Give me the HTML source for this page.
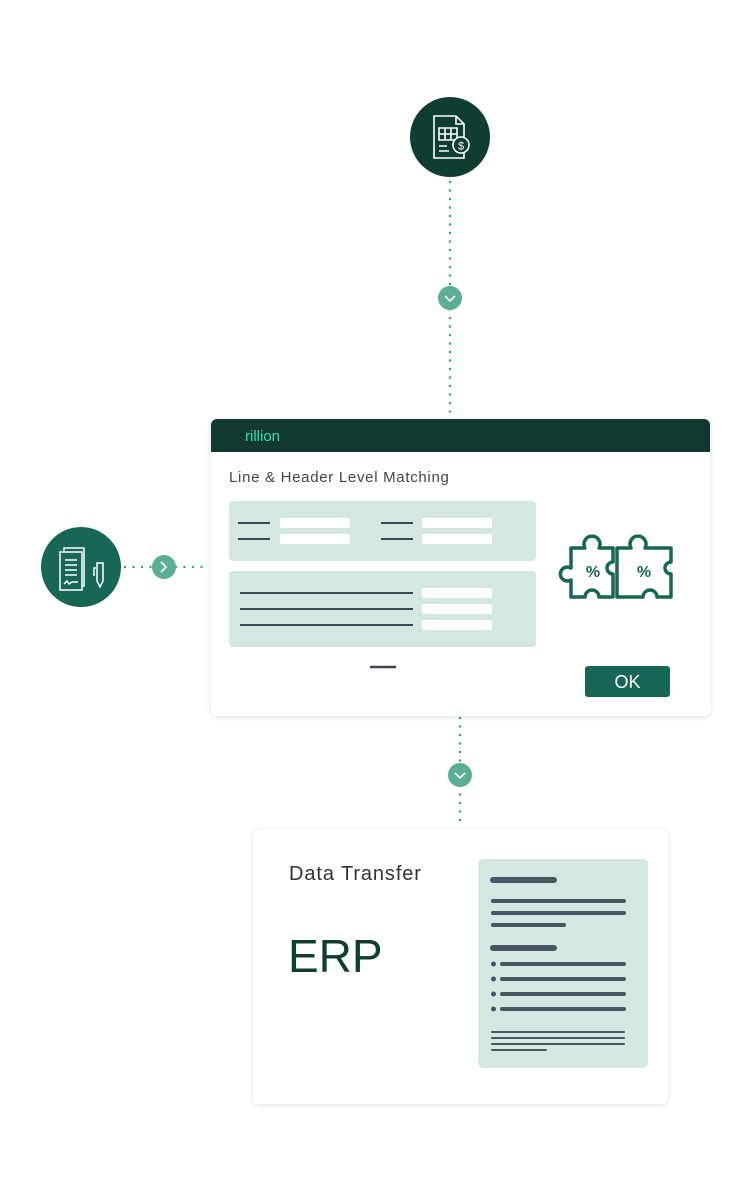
<!DOCTYPE html>
<html><head><style>
body{margin:0;width:750px;height:1200px;background:#fff;position:relative;font-family:"Liberation Sans",sans-serif;overflow:hidden}
.a{position:absolute}
</style></head><body>
<svg class="a" style="left:0;top:0" width="750" height="1200" viewBox="0 0 750 1200">
<defs><filter id="sh" x="-10%" y="-10%" width="120%" height="120%"><feDropShadow dx="0" dy="1" stdDeviation="3" flood-color="#000" flood-opacity="0.12"/></filter></defs>
<g stroke="#3aa58a" stroke-width="2.5" stroke-linecap="round" stroke-dasharray="0 8.5">
<line x1="450" y1="182" x2="450" y2="418"/>
<line x1="460" y1="718" x2="460" y2="828"/>
<line x1="125" y1="567" x2="206" y2="567"/>
</g>
<circle cx="450" cy="137" r="40" fill="#0f3d33"/>
<g fill="none" stroke="#fff" stroke-width="1.6">
<path d="M434 116 h22 l8 8 v34 h-30 z"/><path d="M456 116 v8 h8"/>
<path d="M439 128 h18 v12 h-18 z M439 134 h18 M445 128 v12 M451 128 v12"/>
<path d="M439 146 h8 M439 151 h10"/>
<circle cx="461" cy="145" r="8" fill="#0f3d33"/>
</g>
<text x="461" y="149.5" fill="#fff" font-size="11" text-anchor="middle" font-family="Liberation Sans">$</text>
<circle cx="81" cy="567" r="40" fill="#176656"/>
<g fill="none" stroke="#fff" stroke-width="1.5">
<path d="M64 548 h20 v38 h-20 z"/><path d="M60 552 h22 v38 h-22 z" fill="#176656"/>
<path d="M65 560 h12 M65 565 h12 M65 570 h12 M65 575 h12"/>
<path d="M64 584 l3 -3 l2 3 l3 -2 h6"/>
<path d="M97 563 v18 l3 6 l3 -6 v-18 z M96 568 h-2 v8"/>
</g>
<circle cx="164" cy="567" r="12" fill="#5aae96"/>
<path d="M161 562 l5 5 l-5 5" fill="none" stroke="#fff" stroke-width="1.6"/>
<circle cx="450" cy="298" r="12" fill="#5aae96"/>
<path d="M445 296 l5 5 l5 -5" fill="none" stroke="#fff" stroke-width="1.6"/>
<circle cx="460" cy="775" r="12" fill="#5aae96"/>
<path d="M455 773 l5 5 l5 -5" fill="none" stroke="#fff" stroke-width="1.6"/>
<rect x="211" y="419" width="499" height="297" rx="6" fill="#fff" filter="url(#sh)"/>
<path d="M211 452 V425 a6 6 0 0 1 6 -6 H704 a6 6 0 0 1 6 6 V452 Z" fill="#123a32"/>
<rect x="229" y="501" width="307" height="60" rx="4" fill="#d4e8e1"/>
<rect x="229" y="571" width="307" height="76" rx="4" fill="#d4e8e1"/>
<g stroke="#3c4655" stroke-width="2">
<path d="M238 523 h32 M238 539 h32 M381 523 h32 M381 539 h32"/>
<path d="M240 593 h173 M240 609 h173 M240 625 h173"/>
<path d="M370 667 h26" stroke-width="2.5"/>
</g>
<g fill="#fff">
<rect x="280" y="518" width="70" height="10" rx="2"/><rect x="280" y="534" width="70" height="10" rx="2"/>
<rect x="422" y="518" width="70" height="10" rx="2"/><rect x="422" y="534" width="70" height="10" rx="2"/>
<rect x="422" y="588" width="70" height="10" rx="2"/><rect x="422" y="604" width="70" height="10" rx="2"/><rect x="422" y="620" width="70" height="10" rx="2"/>
</g>
<g fill="none" stroke="#176656" stroke-width="3.5" stroke-linejoin="round">
<path d="M571 548 h14 a8 8 0 1 1 14 0 h14 v14 a6 6 0 1 0 0 12 v23 h-14 a7 7 0 1 0 -14 0 h-14 v-17 a7 7 0 1 1 0 -12 z"/>
<path d="M617 548 h14 a8 8 0 1 1 14 0 h26 v14 a6 6 0 1 0 0 12 v23 h-14 a7 7 0 1 0 -14 0 h-26 z"/>
</g>
<text x="593" y="577" fill="#176656" font-size="16" font-weight="bold" text-anchor="middle">%</text>
<text x="644" y="577" fill="#176656" font-size="16" font-weight="bold" text-anchor="middle">%</text>
<rect x="585" y="666" width="85" height="31" rx="3" fill="#176656"/>
<text x="627.5" y="688" fill="#fff" font-size="18" text-anchor="middle">OK</text>
<text x="245" y="441" fill="#2ee0b0" font-size="15">rillion</text>
<text x="229" y="482" fill="#444" font-size="15" letter-spacing="0.7">Line &amp; Header Level Matching</text>
<rect x="253" y="830" width="415" height="274" rx="7" fill="#fff" filter="url(#sh)"/>
<text x="289" y="880" fill="#333" font-size="20" letter-spacing="0.9">Data Transfer</text>
<text x="288" y="972" fill="#0f3d33" font-size="46">ERP</text>
<rect x="478" y="859" width="170" height="209" rx="5" fill="#d4e8e1"/>
<g stroke="#4a5563" stroke-linecap="round">
<path d="M493 880 h61 M493 948 h61" stroke-width="6"/>
<path d="M493 901 h131 M493 913 h131 M493 925 h71" stroke-width="4"/>
<path d="M502 964 h122 M502 979 h122 M502 994 h122 M502 1009 h122" stroke-width="4"/>
<path d="M492 1032 h132 M492 1038 h132 M492 1044 h132 M492 1050 h54" stroke-width="2"/>
</g>
<g fill="#4a5563"><circle cx="493.5" cy="964" r="2.5"/><circle cx="493.5" cy="979" r="2.5"/><circle cx="493.5" cy="994" r="2.5"/><circle cx="493.5" cy="1009" r="2.5"/></g>
</svg>
</body></html>
